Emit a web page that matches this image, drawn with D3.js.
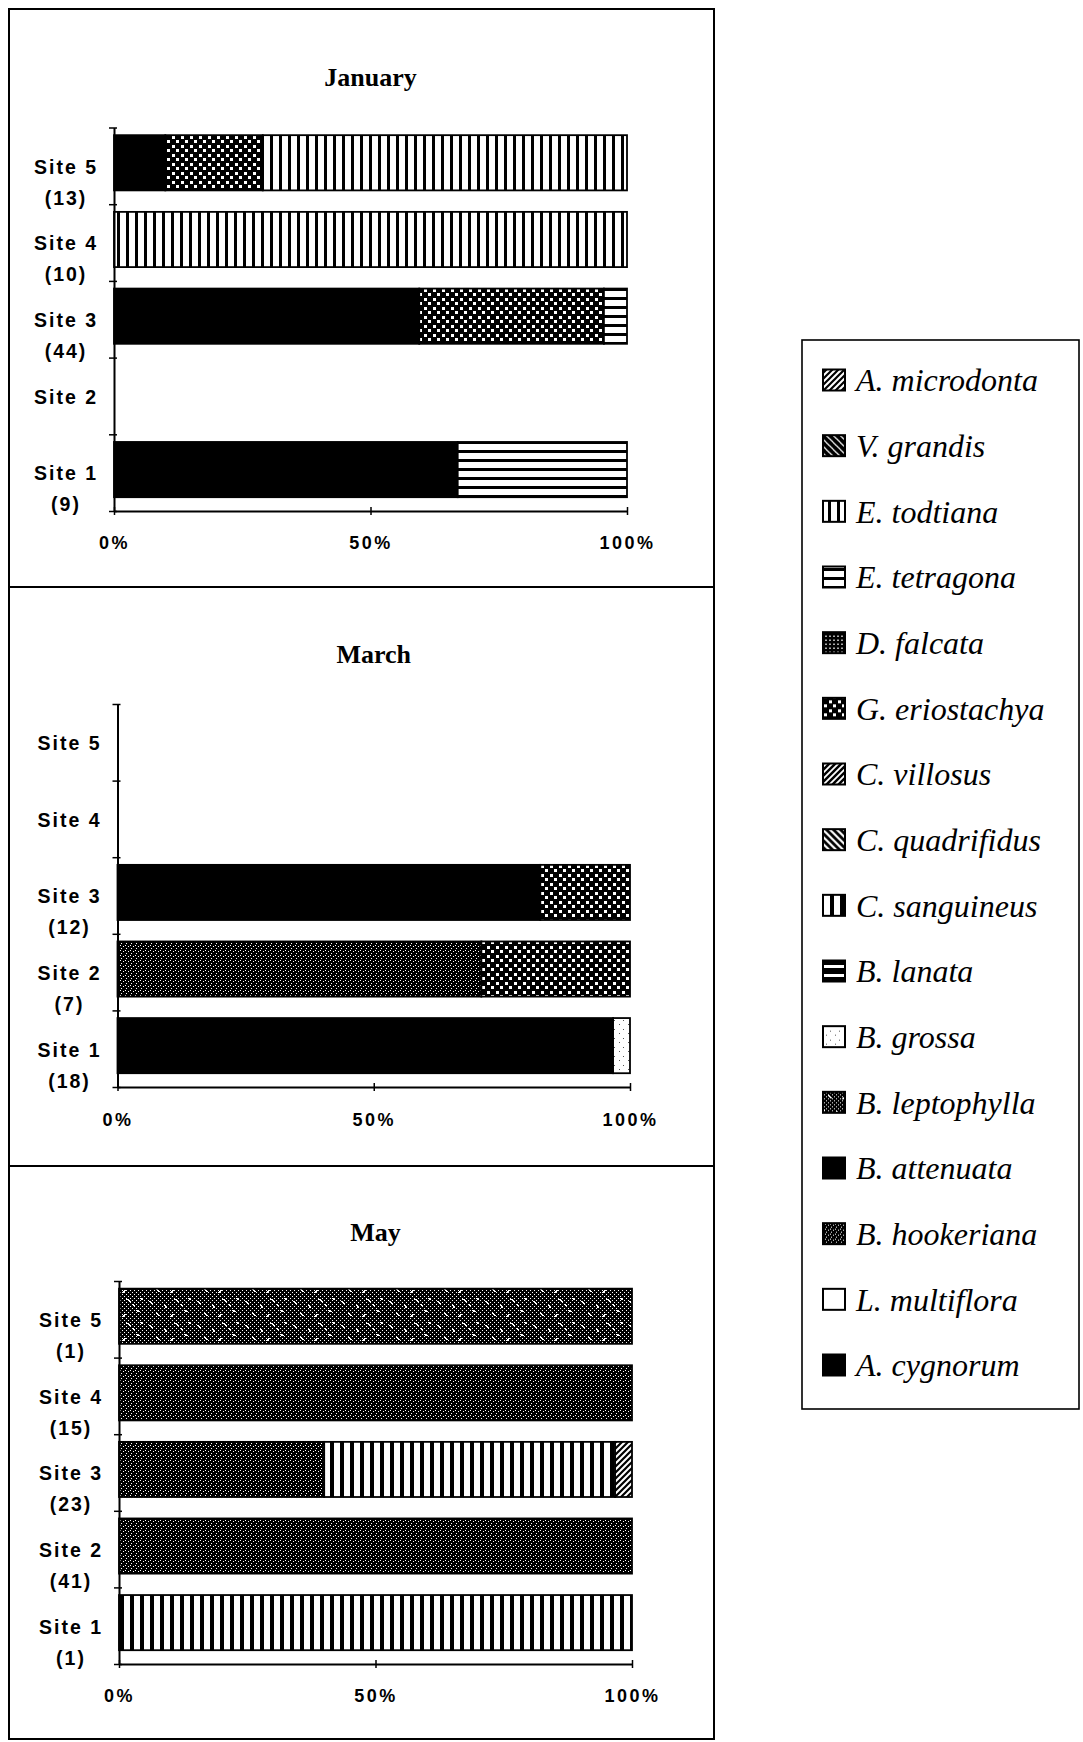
<!DOCTYPE html>
<html>
<head>
<meta charset="utf-8">
<script src="https://cdn.jsdelivr.net/npm/d3@7"></script>
<style>
  body { margin: 0; background: #fff; }
  svg { display: block; }
  .site, .tick text { font-family: "Liberation Sans", Arial, sans-serif; font-weight: bold; }
</style>
</head>
<body>
<svg id="chart" width="1083" height="1742"></svg>
<script>
// ---- data -------------------------------------------------------------
const sites = ["Site 1", "Site 2", "Site 3", "Site 4", "Site 5"];
const months = ["January", "March", "May"];
const species = [
  "A. microdonta", "V. grandis", "E. todtiana", "E. tetragona",
  "D. falcata", "G. eriostachya", "C. villosus", "C. quadrifidus",
  "C. sanguineus", "B. lanata", "B. grossa", "B. leptophylla",
  "B. attenuata", "B. hookeriana", "L. multiflora", "A. cygnorum"
];
const tickValues = [0, 50, 100];

// birds sampled at each site (null = none)
const janCounts = [9, null, 44, 10, 13];
const marCounts = [18, 7, 12, null, null];
const mayCounts = [1, 41, 23, 15, 1];

// pollen load composition (% of load), Site 1 first
const janLoads = [
  [["B. attenuata", 67], ["E. tetragona", 33]],
  [],
  [["B. attenuata", 59.5], ["G. eriostachya", 36], ["E. tetragona", 4.5]],
  [["E. todtiana", 100]],
  [["B. attenuata", 10], ["G. eriostachya", 19], ["E. todtiana", 71]]
];
const marLoads = [
  [["B. attenuata", 96.7], ["B. grossa", 3.3]],
  [["B. hookeriana", 71], ["G. eriostachya", 29]],
  [["B. attenuata", 82.5], ["G. eriostachya", 17.5]],
  [],
  []
];
const mayLoads = [
  [["C. sanguineus", 100]],
  [["B. hookeriana", 100]],
  [["B. hookeriana", 40], ["C. sanguineus", 56.7], ["A. microdonta", 3.3]],
  [["B. hookeriana", 100]],
  [["B. leptophylla", 100]]
];

// ---- layout -------------------------------------------------------------
const panels = [
  { title: months[0], counts: janCounts, loads: janLoads,
    x0: 114, x1: 627, yTop: 127.5, yBot: 511, titleY: 77, tickY: 543 },
  { title: months[1], counts: marCounts, loads: marLoads,
    x0: 117.5, x1: 630, yTop: 704, yBot: 1087, titleY: 654, tickY: 1120 },
  { title: months[2], counts: mayCounts, loads: mayLoads,
    x0: 119, x1: 632, yTop: 1281, yBot: 1664, titleY: 1232, tickY: 1696 }
];

const svg = d3.select("#chart");
const defs = svg.append("defs");

// ---- fill patterns, one per species ----------------------------------------
const patId = name => "pat" + species.indexOf(name);

function pattern(name, w, h, bg, draw) {
  const p = defs.append("pattern")
    .attr("id", patId(name))
    .attr("patternUnits", "userSpaceOnUse")
    .attr("width", w).attr("height", h);
  p.append("rect").attr("width", w).attr("height", h).attr("fill", bg);
  if (draw) draw(p);
}
function dots(p, pts, color, w = 1, h = 1) {
  pts.forEach(([x, y]) => p.append("rect")
    .attr("x", x).attr("y", y).attr("width", w).attr("height", h).attr("fill", color));
}
function lines(p, d, color, sw) {
  p.append("path").attr("d", d).attr("stroke", color)
    .attr("stroke-width", sw).attr("fill", "none");
}

pattern("A. microdonta", 6, 6, "#fff",
  p => lines(p, "M-1,1 L1,-1 M0,6 L6,0 M5,7 L7,5", "#000", 2.2));
pattern("V. grandis", 7, 7, "#fff",
  p => lines(p, "M0,0 L7,7 M-1,6 L1,8 M6,-1 L8,1", "#000", 3.8));
pattern("E. todtiana", 9, 10, "#fff",
  p => dots(p, [[0, 0]], "#000", 3, 10));
pattern("E. tetragona", 10, 9, "#fff",
  p => dots(p, [[0, 0]], "#000", 10, 3));
pattern("D. falcata", 4, 4, "#000",
  p => dots(p, [[1, 1]], "#fff", 2, 1));
pattern("G. eriostachya", 9, 9, "#000",
  p => dots(p, [[1, 1], [5, 5]], "#fff", 3, 3));
pattern("C. villosus", 6, 6, "#000",
  p => lines(p, "M-1,1 L1,-1 M0,6 L6,0 M5,7 L7,5", "#fff", 1.8));
pattern("C. quadrifidus", 7, 7, "#000",
  p => lines(p, "M0,0 L7,7 M-1,6 L1,8 M6,-1 L8,1", "#fff", 2.2));
pattern("C. sanguineus", 10, 10, "#fff",
  p => dots(p, [[0, 0]], "#000", 4, 10));
pattern("B. lanata", 10, 9, "#000",
  p => dots(p, [[0, 3]], "#fff", 10, 3));
pattern("B. grossa", 9, 9, "#fff",
  p => dots(p, [[2, 3], [7, 7]], "#555", 1, 1));
pattern("B. leptophylla", 48, 24, "#000", p => {
  const pts = [];
  for (let y = 0; y < 24; y += 4)
    for (let x = 0; x < 48; x += 4)
      pts.push([x, y], [x + 2, y + 2]);
  dots(p, pts, "#fff");
  dots(p, [[5, 5], [6, 6], [7, 7], [20, 9], [21, 10], [21, 11], [30, 3], [31, 3], [32, 4],
           [33, 5], [40, 14], [41, 15], [42, 15], [12, 17], [13, 18], [14, 19], [26, 20],
           [27, 19], [28, 18], [36, 8], [37, 9], [44, 2], [45, 3]], "#fff", 2, 1);
});
pattern("B. attenuata", 4, 4, "#000");
pattern("B. hookeriana", 5, 5, "#000",
  p => dots(p, [[0, 0], [3, 1], [1, 3]], "#fff"));
pattern("L. multiflora", 4, 4, "#fff");
pattern("A. cygnorum", 4, 4, "#000");

// ---- outer frame around the three panels -------------------------------------
const frame = svg.append("g").attr("fill", "none").attr("stroke", "#000").attr("stroke-width", 2);
frame.append("rect").attr("x", 9).attr("y", 9).attr("width", 705).attr("height", 1730);
frame.append("line").attr("x1", 9).attr("x2", 714).attr("y1", 587).attr("y2", 587);
frame.append("line").attr("x1", 9).attr("x2", 714).attr("y1", 1166).attr("y2", 1166);

// ---- panels -----------------------------------------------------------------
panels.forEach(pn => {
  const g = svg.append("g");
  const x = d3.scaleLinear().domain([0, 100]).range([pn.x0, pn.x1]);
  const y = d3.scaleBand().domain(sites.slice().reverse()).range([pn.yTop, pn.yBot]);
  const bw = y.bandwidth();
  const yEdge = d3.scaleLinear().domain([0, sites.length]).range([pn.yBot, pn.yTop]);

  g.append("text")
    .attr("x", (pn.x0 + pn.x1) / 2).attr("y", pn.titleY).attr("dy", "0.35em")
    .attr("text-anchor", "middle")
    .attr("font-family", "'Liberation Serif', 'Times New Roman', serif")
    .attr("font-weight", "bold").attr("font-size", 26)
    .text(pn.title);

  // stacked bars
  sites.forEach((site, i) => {
    const segs = pn.loads[i];
    if (!segs.length) return;
    const ends = d3.cumsum(segs, d => d[1]);
    g.append("g").selectAll("rect").data(segs).join("rect")
      .attr("x", (d, j) => x(j ? ends[j - 1] : 0))
      .attr("width", (d, j) => x(ends[j]) - x(j ? ends[j - 1] : 0))
      .attr("y", y(site) + bw * 0.1)
      .attr("height", bw * 0.72)
      .attr("fill", d => `url(#${patId(d[0])})`)
      .attr("stroke", "#000").attr("stroke-width", 1.8);
  });

  // y axis: ticks at the band edges
  const ya = g.append("g").attr("transform", `translate(${pn.x0},0)`)
    .call(d3.axisLeft(yEdge).ticks(5).tickSize(5).tickSizeOuter(0).tickFormat(""));
  ya.select(".domain").attr("stroke-width", 2);
  ya.selectAll(".tick line").attr("x1", -5).attr("x2", 3).attr("stroke-width", 1.5);

  // x axis
  const xa = g.append("g").attr("transform", `translate(0,${pn.yBot})`)
    .call(d3.axisBottom(x).tickValues(tickValues).tickSizeOuter(0).tickFormat(d => d + "%"));
  xa.select(".domain").attr("stroke-width", 2);
  xa.selectAll(".tick line").attr("y1", -4).attr("y2", 4).attr("stroke-width", 1.5);
  xa.selectAll(".tick text")
    .attr("y", pn.tickY - pn.yBot).attr("dy", "0.35em")
    .attr("font-size", 18).attr("letter-spacing", 2.5).attr("fill", "#000");

  // site labels with bird counts beneath
  const lx = pn.x0 - 48;
  sites.forEach((site, i) => {
    const cy = y(site) + bw / 2;
    g.append("text").attr("class", "site")
      .attr("x", lx).attr("y", cy + 1).attr("dy", "0.35em")
      .attr("text-anchor", "middle").attr("font-size", 19.5).attr("letter-spacing", 2)
      .text(site);
    if (pn.counts[i] != null)
      g.append("text").attr("class", "site")
        .attr("x", lx).attr("y", cy + 32).attr("dy", "0.35em")
        .attr("text-anchor", "middle").attr("font-size", 19.5).attr("letter-spacing", 2)
        .text(`(${pn.counts[i]})`);
  });
});

// ---- legend -------------------------------------------------------------
const lg = svg.append("g");
lg.append("rect").attr("x", 802).attr("y", 340).attr("width", 277).attr("height", 1069)
  .attr("fill", "none").attr("stroke", "#000").attr("stroke-width", 1.6);
const ly = d3.scaleLinear().domain([0, species.length - 1]).range([380, 1365]);
const item = lg.selectAll("g.item").data(species).join("g").attr("class", "item")
  .attr("transform", (d, i) => `translate(0,${ly(i)})`);
item.append("rect").attr("x", 823).attr("y", -10.5).attr("width", 22).attr("height", 21)
  .attr("fill", d => `url(#${patId(d)})`).attr("stroke", "#000").attr("stroke-width", 2);
item.append("text").attr("x", 856).attr("dy", "0.35em")
  .attr("font-family", "'Liberation Serif', 'Times New Roman', serif")
  .attr("font-style", "italic").attr("font-size", 32)
  .text(d => d);
</script>
</body>
</html>
